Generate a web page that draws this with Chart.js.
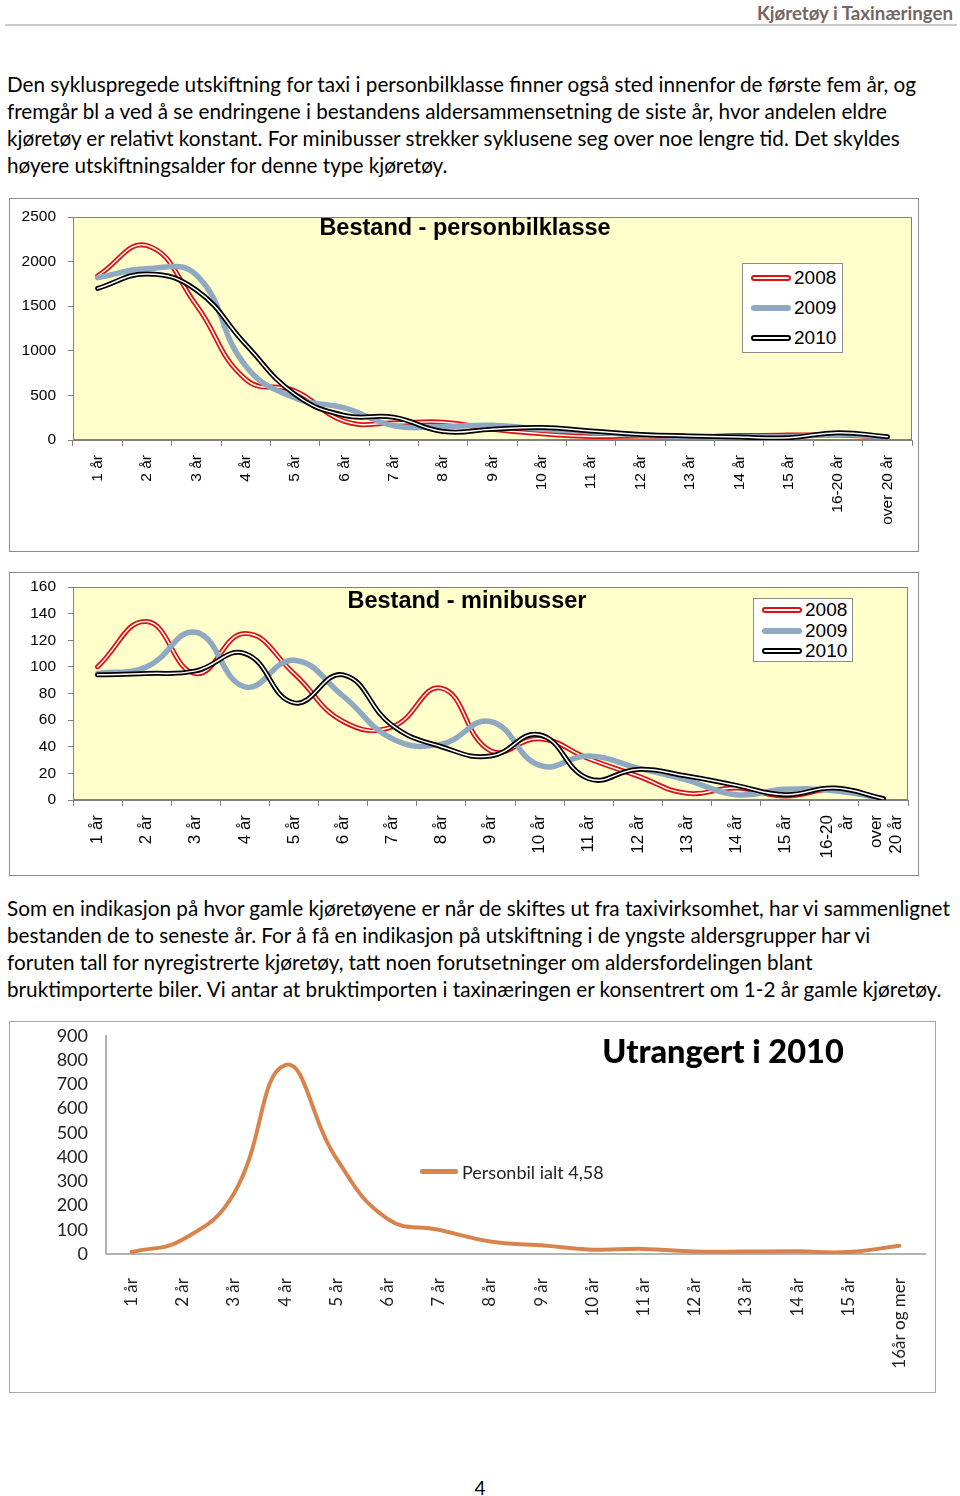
<!DOCTYPE html>
<html lang="no">
<head>
<meta charset="utf-8">
<title>Kjøretøy i Taxinæringen</title>
<script src="https://cdn.jsdelivr.net/npm/chart.js@4.4.0/dist/chart.umd.min.js"></script>
<style>
  body { margin: 0; width: 960px; height: 1496px; position: relative; background: #fff; color: #000; font-family: Lato, "Open Sans", sans-serif; }
  .hdr { position: absolute; right: 7px; top: 2px; font-weight: bold; font-size: 18.7px; color: #76655f; }
  .rule { position: absolute; left: 5px; width: 952px; top: 24px; height: 2px; background: #c9c9c9; }
  .para { position: absolute; left: 7px; font-size: 20.7px; line-height: 27px; white-space: nowrap; }
  .box { position: absolute; border: 1px solid #8c8c8c; box-sizing: border-box; background: #fff; }
  .box canvas { position: absolute; left: 0; top: 0; }
  .ttl { position: absolute; white-space: nowrap; font-weight: bold; transform: translate(-50%, -50%); }
  .arial { font-family: "Liberation Sans", Arial, sans-serif; }
  .lgd { position: absolute; background: #fff; border: 1px solid #8c8c8c; box-sizing: border-box; font-family: "Liberation Sans", Arial, sans-serif; font-size: 19px; }
  .lgd .row { position: absolute; left: 0; height: 0; }
  .lgd .smp { position: absolute; left: 8px; width: 40px; box-sizing: border-box; border-radius: 3px; }
  .lgd .txt { position: absolute; top: -11px; line-height: 22px; }
  .dbl-red { top: -3px; height: 6px; background: #fff; border: 2px solid #e01010; }
  .dbl-blk { top: -3px; height: 6px; background: #fff; border: 2px solid #000; }
  .thick-blue { top: -3px; height: 6px; background: #8ea9c1; }
  .pg { position: absolute; left: 480px; top: 1487px; transform: translate(-50%, -50%); font-size: 19px; }
</style>
</head>
<body>
<div class="hdr">Kjøretøy i Taxinæringen</div>
<div class="rule"></div>

<div class="para" style="top:71px">
  <div>Den sykluspregede utskiftning for taxi i personbilklasse finner også sted innenfor de første fem år, og</div>
  <div>fremgår bl a ved å se endringene i bestandens aldersammensetning de siste år, hvor andelen eldre</div>
  <div>kjøretøy er relativt konstant. For minibusser strekker syklusene seg over noe lengre tid. Det skyldes</div>
  <div>høyere utskiftningsalder for denne type kjøretøy.</div>
</div>

<div class="box" style="left:9px; top:198px; width:910px; height:354px;">
  <canvas id="chartPersonbil" width="908" height="352"></canvas>
</div>
<div class="ttl arial" style="left:465px; top:227px; font-size:23.5px;">Bestand - personbilklasse</div>
<div class="lgd" id="lgdPersonbil" style="left:742px; top:263px; width:101px; height:90px;"></div>

<div class="box" style="left:9px; top:572px; width:910px; height:304px;">
  <canvas id="chartMinibuss" width="908" height="302"></canvas>
</div>
<div class="ttl arial" style="left:467px; top:600px; font-size:23.5px;">Bestand - minibusser</div>
<div class="lgd" id="lgdMinibuss" style="left:753px; top:598px; width:100px; height:64px;"></div>

<div class="para" style="top:895px">
  <div>Som en indikasjon på hvor gamle kjøretøyene er når de skiftes ut fra taxivirksomhet, har vi sammenlignet</div>
  <div>bestanden de to seneste år. For å få en indikasjon på utskiftning i de yngste aldersgrupper har vi</div>
  <div>foruten tall for nyregistrerte kjøretøy, tatt noen forutsetninger om aldersfordelingen blant</div>
  <div>bruktimporterte biler. Vi antar at bruktimporten i taxinæringen er konsentrert om 1-2 år gamle kjøretøy.</div>
</div>

<div class="box" style="left:9px; top:1021px; width:927px; height:372px; border-color:#a6a6a6;">
  <canvas id="chartUtrangert" width="925" height="370"></canvas>
</div>
<div class="ttl" style="left:723px; top:1050px; font-size:32.5px; font-weight:900;">Utrangert i 2010</div>
<div style="position:absolute; left:420px; top:1169px; width:38px; height:5px; border-radius:2px; background:#d9834c;"></div>
<div style="position:absolute; left:462px; top:1172px; transform:translateY(-50%); font-size:18px; color:#222;">Personbil ialt 4,58</div>

<div class="pg">4</div>

<script>
// categories
const ageLabels = ["1 år", "2 år", "3 år", "4 år", "5 år", "6 år", "7 år", "8 år", "9 år", "10 år", "11 år", "12 år", "13 år", "14 år", "15 år", "16-20 år", "over 20 år"];
const ageLabelsWrapped = ["1 år", "2 år", "3 år", "4 år", "5 år", "6 år", "7 år", "8 år", "9 år", "10 år", "11 år", "12 år", "13 år", "14 år", "15 år", ["16-20", "år"], ["over", "20 år"]];
const scrapLabels = ["1 år", "2 år", "3 år", "4 år", "5 år", "6 år", "7 år", "8 år", "9 år", "10 år", "11 år", "12 år", "13 år", "14 år", "15 år", "16år og mer"];
const years = ["2008", "2009", "2010"];

// Bestand - personbilklasse
const personbil2008 = [1840, 2180, 1510, 680, 550, 210, 190, 200, 120, 70, 40, 45, 37, 50, 55, 55, 33];
const personbil2009 = [1820, 1920, 1850, 830, 470, 360, 160, 150, 165, 120, 90, 56, 37, 37, 37, 63, 33];
const personbil2010 = [1700, 1860, 1680, 1070, 510, 275, 255, 95, 120, 140, 100, 63, 45, 33, 26, 82, 37];
const personbilTicks = [0, 500, 1000, 1500, 2000, 2500];

// Bestand - minibusser
const minibuss2008 = [100, 134, 95, 125, 95, 59, 55, 84, 37, 46, 31, 18, 5, 9, 3, 8, 1];
const minibuss2009 = [95, 100, 126, 85, 105, 78, 46, 42, 59, 26, 33, 24, 15, 4, 8, 7, 1];
const minibuss2010 = [94, 95, 97, 110, 73, 94, 56, 40, 33, 49, 16, 23, 18, 11, 4, 9, 1];
const minibussTicks = [0, 20, 40, 60, 80, 100, 120, 140, 160];

// Utrangert i 2010
const utrangert = [8, 60, 250, 780, 395, 145, 100, 52, 36, 18, 21, 10, 10, 11, 8, 34];
const utrangertTicks = [0, 100, 200, 300, 400, 500, 600, 700, 800, 900];

const ARIAL = "'Liberation Sans', Arial, sans-serif";
const GOTHIC = "Lato, 'Open Sans', sans-serif";

// yellow plot area with a grey frame, like the old Excel charts
const plotArea = {
  id: "plotArea",
  beforeDraw(chart, args, opts) {
    if (!opts.color) return;
    const { ctx, chartArea: a } = chart;
    ctx.save();
    ctx.fillStyle = opts.color;
    ctx.fillRect(a.left, a.top, a.width, a.height);
    ctx.strokeStyle = opts.border;
    ctx.lineWidth = 1;
    ctx.strokeRect(a.left + 0.5, a.top + 0.5, a.width - 1, a.height - 1);
    ctx.restore();
  },
};

// rotated two-line labels: centre the block on the tick instead of the first line
const centerWrapped = {
  id: "centerWrapped",
  beforeDraw(chart) {
    const scale = chart.scales.x;
    scale.getLabelItems().forEach((item) => {
      if (Array.isArray(item.label) && item.label.length > 1) {
        const lh = item.font.lineHeight;
        item.options.translation[0] -= (item.label.length - 1) * lh / 2 - 3;
      }
    });
  },
};

function line(data, color, width, order) {
  return {
    data: data,
    borderColor: color,
    borderWidth: width,
    pointRadius: 0,
    tension: 0.45,
    fill: false,
    borderCapStyle: "round",
    borderJoinStyle: "round",
    order: order,
  };
}

// 2008 and 2010 are drawn as double lines (coloured edge, white core)
function yearSets(d2008, d2009, d2010) {
  return [
    line(d2008, "#e01010", 5, 6),
    line(d2008, "#ffffff", 1.5, 5),
    line(d2009, "#8ea9c1", 5.5, 4),
    line(d2010, "#000000", 5, 3),
    line(d2010, "#ffffff", 1.5, 2),
  ];
}

function plainNumber(value) {
  return String(value);
}

// fixed axis size, and no extra side room for the rotated end labels
function fixHeight(h) {
  return (s) => {
    s.height = h;
    s.paddingLeft = 0;
    s.paddingRight = 0;
  };
}
function fixWidth(w) {
  return (s) => {
    s.width = w;
    s.paddingTop = 0;
    s.paddingBottom = 0;
  };
}

function stockOptions(ticks, xHeight, yWidth, padRight, padTop, xFontSize) {
  return {
    responsive: false,
    animation: false,
    layout: { padding: { left: 0, right: padRight, top: padTop, bottom: 0 } },
    plugins: {
      legend: { display: false },
      tooltip: { enabled: false },
      plotArea: { color: "#ffffcc", border: "#808080" },
    },
    scales: {
      x: {
        offset: true,
        grid: { drawOnChartArea: false, drawTicks: true, tickLength: 6, color: "#808080", offset: true },
        border: { color: "#808080" },
        ticks: {
          autoSkip: false,
          minRotation: 90,
          maxRotation: 90,
          padding: 9,
          color: "#000",
          font: { family: ARIAL, size: xFontSize },
        },
        afterFit: fixHeight(xHeight),
      },
      y: {
        min: ticks[0],
        max: ticks[ticks.length - 1],
        afterBuildTicks: (s) => { s.ticks = ticks.map((v) => ({ value: v })); },
        grid: { drawOnChartArea: false, drawTicks: true, tickLength: 5, color: "#808080" },
        border: { color: "#808080" },
        ticks: { autoSkip: false, padding: 12, color: "#000", font: { family: ARIAL, size: 15.5 }, callback: plainNumber },
        afterFit: fixWidth(yWidth),
      },
    },
  };
}

new Chart(document.getElementById("chartPersonbil"), {
  type: "line",
  data: { labels: ageLabels, datasets: yearSets(personbil2008, personbil2009, personbil2010) },
  options: stockOptions(personbilTicks, 111, 63, 6, 18, 15.5),
  plugins: [plotArea],
});

new Chart(document.getElementById("chartMinibuss"), {
  type: "line",
  data: { labels: ageLabelsWrapped, datasets: yearSets(minibuss2008, minibuss2009, minibuss2010) },
  options: stockOptions(minibussTicks, 75, 63, 10, 14, 17),
  plugins: [plotArea, centerWrapped],
});

new Chart(document.getElementById("chartUtrangert"), {
  type: "line",
  data: {
    labels: scrapLabels,
    datasets: [
      {
        label: "Personbil ialt 4,58",
        data: utrangert,
        borderColor: "#d9834c",
        borderWidth: 4,
        pointRadius: 0,
        tension: 0.45,
        fill: false,
        borderCapStyle: "round",
      },
    ],
  },
  options: {
    responsive: false,
    animation: false,
    layout: { padding: { left: 0, right: 10, top: 14, bottom: 0 } },
    plugins: { legend: { display: false }, tooltip: { enabled: false } },
    scales: {
      x: {
        offset: true,
        grid: { display: false },
        border: { color: "#b3b3b3", width: 2 },
        ticks: {
          autoSkip: false,
          minRotation: 90,
          maxRotation: 90,
          padding: 16,
          color: "#222",
          font: { family: GOTHIC, size: 17 },
        },
        afterFit: fixHeight(138),
      },
      y: {
        min: utrangertTicks[0],
        max: utrangertTicks[utrangertTicks.length - 1],
        afterBuildTicks: (s) => { s.ticks = utrangertTicks.map((v) => ({ value: v })); },
        grid: { display: false },
        border: { color: "#b3b3b3", width: 2 },
        ticks: { autoSkip: false, padding: 10, color: "#222", font: { family: GOTHIC, size: 18 }, callback: plainNumber },
        afterFit: fixWidth(96),
      },
    },
  },
});

// legends inside the plot area
function buildLegend(id, rowTops) {
  const box = document.getElementById(id);
  const styles = ["dbl-red", "thick-blue", "dbl-blk"];
  years.forEach((year, i) => {
    const row = document.createElement("div");
    row.className = "row";
    row.style.top = rowTops[i] + "px";
    row.innerHTML = '<div class="smp ' + styles[i] + '"></div><div class="txt" style="left:51px">' + year + "</div>";
    box.appendChild(row);
  });
}
buildLegend("lgdPersonbil", [14, 44, 74]);
buildLegend("lgdMinibuss", [11, 32, 52]);
</script>
</body>
</html>
